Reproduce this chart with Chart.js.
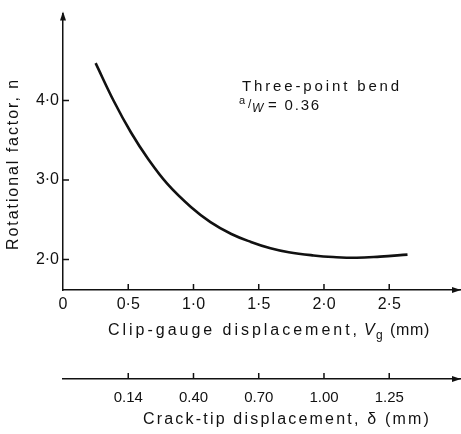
<!DOCTYPE html>
<html><head><meta charset="utf-8">
<script src="https://cdn.jsdelivr.net/npm/chart.js@4.4.1/dist/chart.umd.min.js"></script>
<style>html,body{margin:0;padding:0;background:#fff}canvas{display:block}</style>
</head><body>
<canvas id="c" width="461" height="434"></canvas>
<script>
// ---- data ----
const clipGauge = [0.25, 0.39, 0.52, 0.65, 0.80, 0.98, 1.13, 1.29, 1.44, 1.59, 1.73, 1.92, 2.07, 2.25, 2.43, 2.64];
const rotFactor = [4.47, 3.99, 3.60, 3.27, 2.95, 2.66, 2.47, 2.32, 2.22, 2.14, 2.09, 2.05, 2.03, 2.02, 2.035, 2.06];
const xTickValues = [0, 0.5, 1.0, 1.5, 2.0, 2.5];
const yTickValues = [2, 3, 4];
const crackTipPositions = [0.5, 1.0, 1.5, 2.0, 2.5];
const crackTipLabels = ['0.14', '0.40', '0.70', '1.00', '1.25'];
const yTitle = 'Rotational factor, n';
const xTitleParts = ['Clip-gauge displacement,', 'V', 'g', '(mm)'];
const x2Title = 'Crack-tip displacement, \u03B4 (mm)';
const noteLine1 = 'Three-point bend';
const noteRatio = ['a', '/', 'W', ' = 0.36'];

const FONT = '"Liberation Sans", Arial, sans-serif';
const INK = '#111';

function dot(v) { return v === 0 ? '0' : v.toFixed(1).replace('.', '\u00B7'); }

function fitText(ctx, str, x, y, width) {
  ctx.letterSpacing = '0px';
  const w = ctx.measureText(str).width;
  const ls = Math.max(0, (width - w) / str.length);
  ctx.letterSpacing = ls + 'px';
  ctx.fillText(str, x, y);
  const out = ctx.measureText(str).width;
  ctx.letterSpacing = '0px';
  return out;
}

const decor = {
  id: 'decor',
  afterDraw(chart) {
    const ctx = chart.ctx;
    const xs = chart.scales.x, x2 = chart.scales.x2, ys = chart.scales.y;
    ctx.save();
    ctx.strokeStyle = INK; ctx.fillStyle = INK; ctx.lineWidth = 1.5;
    // inward tick marks
    ctx.beginPath();
    xTickValues.forEach(v => { if (v === 0) return; const p = xs.getPixelForValue(v); ctx.moveTo(p, xs.top); ctx.lineTo(p, xs.top - 6); });
    crackTipPositions.forEach(v => { const p = x2.getPixelForValue(v); ctx.moveTo(p, x2.top); ctx.lineTo(p, x2.top - 6); });
    yTickValues.forEach(v => { const p = ys.getPixelForValue(v); ctx.moveTo(ys.right, p); ctx.lineTo(ys.right + 6, p); });
    ctx.stroke();
    // arrow heads
    const ax = ys.right, ay = chart.chartArea.top;
    ctx.beginPath(); ctx.moveTo(ax, ay - 2); ctx.lineTo(ax - 3, ay + 7); ctx.lineTo(ax + 3, ay + 7); ctx.closePath(); ctx.fill();
    [xs.top, x2.top].forEach(yy => {
      const r = chart.chartArea.right;
      ctx.beginPath(); ctx.moveTo(r, yy); ctx.lineTo(r - 9, yy - 3); ctx.lineTo(r - 9, yy + 3); ctx.closePath(); ctx.fill();
    });
    // y title
    ctx.textBaseline = 'alphabetic'; ctx.textAlign = 'left';
    ctx.font = '16px ' + FONT;
    ctx.save();
    ctx.translate(18, 250); ctx.rotate(-Math.PI / 2);
    fitText(ctx, yTitle, 0, 0, 172);
    ctx.restore();
    // x title with subscript
    const by = 335;
    ctx.font = '16px ' + FONT;
    fitText(ctx, xTitleParts[0], 108, by, 252);
    ctx.font = 'italic 16px ' + FONT;
    ctx.fillText(xTitleParts[1], 364, by);
    ctx.font = '12px ' + FONT;
    ctx.fillText(xTitleParts[2], 376, by + 4);
    ctx.font = '16px ' + FONT;
    fitText(ctx, xTitleParts[3], 390, by, 40);
    // x2 title
    fitText(ctx, x2Title, 143, 424, 288);
    // annotation
    ctx.font = '15px ' + FONT;
    fitText(ctx, noteLine1, 242, 91, 160);
    ctx.font = '11px ' + FONT;
    ctx.fillText(noteRatio[0], 239, 104);
    ctx.font = '12px ' + FONT;
    ctx.fillText(noteRatio[1], 248, 108);
    ctx.font = 'italic 12px ' + FONT;
    ctx.fillText(noteRatio[2], 252, 112);
    ctx.font = '15px ' + FONT;
    fitText(ctx, noteRatio[3], 262, 110, 59);
    ctx.restore();
  }
};

new Chart(document.getElementById('c'), {
  type: 'scatter',
  data: {
    datasets: [{
      data: clipGauge.map((x, i) => ({ x: x, y: rotFactor[i] })),
      showLine: true,
      tension: 0.4,
      borderColor: INK,
      borderWidth: 2.6,
      pointRadius: 0,
      fill: false
    }]
  },
  options: {
    responsive: false,
    animation: false,
    devicePixelRatio: 1,
    layout: { padding: { top: 10, left: 0, right: 0, bottom: 0 } },
    plugins: { legend: { display: false }, tooltip: { enabled: false } },
    scales: {
      x: {
        type: 'linear', position: 'bottom', weight: 0,
        min: 0, max: 3.05,
        afterBuildTicks: s => { s.ticks = xTickValues.map(v => ({ value: v })); },
        afterFit: s => { s.height = 89; },
        ticks: { callback: v => dot(v), autoSkip: false, maxRotation: 0, padding: 5, color: INK, font: { family: FONT, size: 16 } },
        grid: { display: false, drawTicks: false },
        border: { display: true, color: INK, width: 1.5 }
      },
      x2: {
        type: 'linear', position: 'bottom', weight: 1,
        min: 0, max: 3.05,
        afterBuildTicks: s => { s.ticks = crackTipPositions.map(v => ({ value: v })); },
        afterFit: s => { s.height = 55; },
        ticks: { callback: (v, i) => crackTipLabels[i], autoSkip: false, maxRotation: 0, padding: 10, color: INK, font: { family: FONT, size: 15 } },
        grid: { display: false, drawTicks: false },
        border: { display: true, color: INK, width: 1.5 }
      },
      y: {
        type: 'linear', position: 'left',
        min: 1.615, max: 5.093,
        afterBuildTicks: s => { s.ticks = yTickValues.map(v => ({ value: v })); },
        afterFit: s => { s.width = 63; },
        ticks: { callback: v => dot(v), padding: 4, color: INK, font: { family: FONT, size: 16 } },
        grid: { display: false, drawTicks: false },
        border: { display: true, color: INK, width: 1.5 }
      }
    }
  },
  plugins: [decor]
});
</script>
</body></html>
